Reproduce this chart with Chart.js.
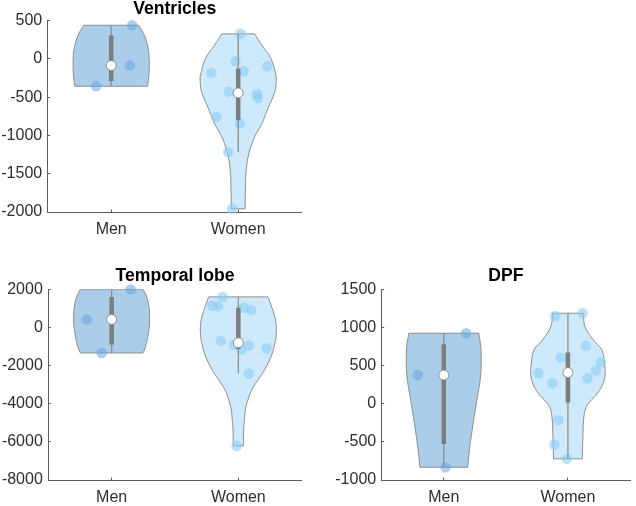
<!DOCTYPE html>
<html><head><meta charset="utf-8">
<script src="https://cdn.jsdelivr.net/npm/chart.js@4.4.0/dist/chart.umd.min.js"></script>
<style>
html,body{margin:0;padding:0;background:#fff;}
#wrap{position:relative;width:636px;height:506px;overflow:hidden;background:#fff;}
.p{position:absolute;}
canvas{display:block;}
</style></head><body>
<div id="wrap">
<div class="p" style="left:0;top:0;"><canvas id="c1" width="318" height="250"></canvas></div>
<div class="p" style="left:0;top:250px;"><canvas id="c2" width="318" height="256"></canvas></div>
<div class="p" style="left:318px;top:250px;"><canvas id="c3" width="318" height="256"></canvas></div>
</div>
<script>
// ---------- data ----------
const groups = ['Men', 'Women'];

// Ventricles
const ventTicks = [-2000, -1500, -1000, -500, 0, 500];
const ventMenPts = [440, -86, -357];
const ventMenJit = [0.165, 0.147, -0.118];
const ventWomenPts = [328, -30, -183, -161, -95, -430, -458, -510, -758, -844, -1216, -1958];
const ventWomenJit = [0.018, -0.021, -0.213, 0.044, 0.228, -0.074, 0.150, 0.154, -0.173, 0.013, -0.079, -0.047];
const ventMedian = [-86, -444];
const ventQ1 = [-289, -801];
const ventQ3 = [309, -126];
const ventWhiskLo = [-357, -1216];
const ventWhiskHi = [440, 328];
const ventMenDensY = [440, 310, 136, -39, -213, -344, -357];
const ventMenDensW = [0.72, 0.87, 0.97, 1.0, 0.99, 0.96, 0.955];
const ventWomenDensY = [328, 179, 5, -213, -278, -431, -648, -801, -867, -1020, -1237, -1455, -1673, -1958];
const ventWomenDensW = [0.43, 0.62, 0.86, 0.99, 1.0, 0.96, 0.78, 0.66, 0.60, 0.43, 0.28, 0.21, 0.19, 0.18];

// Temporal lobe
const tempTicks = [-8000, -6000, -4000, -2000, 0, 2000];
const tempMenPts = [1990, 419, -1340];
const tempMenJit = [0.150, -0.197, -0.079];
const tempWomenPts = [1602, 1131, 1115, 1026, 906, -700, -910, -1152, -963, -1099, -2430, -6215];
const tempWomenJit = [-0.126, -0.205, -0.161, 0.044, 0.102, -0.139, -0.035, 0.024, 0.083, 0.223, 0.083, -0.013];
const tempMedian = [419, -806];
const tempQ1 = [-900, -1130];
const tempQ3 = [1600, 1030];
const tempWhiskLo = [-1340, -2430];
const tempWhiskHi = [1990, 1602];
const tempMenDensY = [1990, 1430, 419, -490, -1190, -1340];
const tempMenDensW = [0.83, 0.95, 1.0, 0.95, 0.86, 0.82];
const tempWomenDensY = [1602, 1168, 471, -230, -927, -1623, -2325, -2800, -3283, -3806, -4330, -4853, -5377, -6215];
const tempWomenDensW = [0.78, 0.86, 0.97, 1.0, 0.95, 0.84, 0.66, 0.50, 0.35, 0.25, 0.185, 0.16, 0.14, 0.135];

// DPF
const dpfTicks = [-1000, -500, 0, 500, 1000, 1500];
const dpfMenPts = [924, 375, -833];
const dpfMenJit = [0.180, -0.209, 0.014];
const dpfWomenPts = [1150, 1186, 758, 605, 545, 435, 335, 401, 270, -218, -536, -723];
const dpfWomenJit = [-0.104, 0.118, 0.144, -0.056, 0.265, 0.225, 0.158, -0.237, -0.123, -0.077, -0.109, -0.008];
const dpfMedian = [375, 409];
const dpfQ1 = [-527, 17];
const dpfQ3 = [780, 671];
const dpfWhiskLo = [-833, -723];
const dpfWhiskHi = [924, 1186];
const dpfMenDensY = [924, 706, 375, 52, -252, -601, -833];
const dpfMenDensW = [0.94, 1.0, 0.99, 0.89, 0.79, 0.69, 0.64];
const dpfWomenDensY = [1186, 1010, 837, 706, 532, 401, 271, 140, 52, -35, -166, -383, -723];
const dpfWomenDensW = [0.41, 0.46, 0.68, 0.91, 0.98, 1.0, 0.95, 0.80, 0.64, 0.50, 0.43, 0.405, 0.385];

// ---------- styling ----------
const FONT = "'Liberation Sans', Arial, Helvetica, sans-serif";
Chart.defaults.font.family = FONT;
const VIOLIN_HALF = 0.3;
const violinFill = ['rgb(170,205,234)', 'rgb(206,234,250)'];
const pointFill = ['rgba(105,165,222,0.55)', 'rgba(140,205,245,0.6)'];
const edgeCol = '#8d8d8d';
const boxCol = '#7d7d7d';
const axisCol = '#5c5c5c';
const tickCol = '#2e2e2e';
const TICK_IN = -2.5;

function buildViolin(pos, ys, ws) {
  const n = ys.length, pts = [];
  const R = i => ({x: pos + ws[i] * VIOLIN_HALF, y: ys[i]});
  const L = i => ({x: pos - ws[i] * VIOLIN_HALF, y: ys[i]});
  pts.push(L(0), L(0), R(0), R(0));
  for (let i = 1; i < n - 1; i++) pts.push(R(i));
  pts.push(R(n - 1), R(n - 1), L(n - 1), L(n - 1));
  for (let i = n - 2; i >= 1; i--) pts.push(L(i));
  pts.push(L(0), L(0));
  return pts;
}

function groupDatasets(g, pts, jit, densY, densW, med, q1, q3, wlo, whi) {
  const pos = g + 1;
  return [
    { data: [{x: pos, y: med[g]}], showLine: false, pointRadius: 5, pointBorderWidth: 1,
      pointBackgroundColor: '#ffffff', pointBorderColor: edgeCol, order: 0, clip: false },
    { data: [{x: pos, y: q1[g]}, {x: pos, y: q3[g]}], borderColor: boxCol, borderWidth: 4.5,
      borderCapStyle: 'butt', pointRadius: 0, fill: false, tension: 0, order: 1 },
    { data: [{x: pos, y: wlo[g]}, {x: pos, y: whi[g]}], borderColor: edgeCol, borderWidth: 1.3,
      pointRadius: 0, fill: false, tension: 0, order: 2 },
    { data: pts.map((v, i) => ({x: pos + jit[i], y: v})), showLine: false, pointRadius: 5.3,
      pointBorderWidth: 0, pointBackgroundColor: pointFill[g], order: 3, clip: false },
    { data: buildViolin(pos, densY, densW), borderColor: edgeCol, borderWidth: 1,
      backgroundColor: violinFill[g], fill: 'shape', tension: 0.4, pointRadius: 0, order: 4 }
  ];
}

function makePanel(id, title, ticks, series, lay) {
  const datasets = [];
  series.forEach((s, g) => datasets.push(...groupDatasets(g, ...s)));
  new Chart(document.getElementById(id), {
    type: 'line',
    data: { datasets },
    options: {
      responsive: false, animation: false, events: [],
      layout: { padding: { left: 0, right: lay.w - lay.right, top: lay.titleTop, bottom: 0 } },
      plugins: {
        legend: { display: false }, tooltip: { enabled: false },
        title: { display: true, text: title, color: '#000', fullSize: false,
          font: { size: 17.6, weight: 'bold', lineHeight: 1 },
          padding: { top: 0, bottom: lay.top - lay.titleTop - 17.6 } }
      },
      scales: {
        x: {
          type: 'linear', min: 0.5, max: 2.5,
          grid: { display: true, drawOnChartArea: false, drawTicks: true, tickLength: TICK_IN, color: axisCol, lineWidth: 1 },
          border: { display: true, color: axisCol, width: 1 },
          afterBuildTicks: s => { s.ticks = groups.map((_, i) => ({ value: i + 1 })); },
          ticks: { callback: v => groups[Math.round(v) - 1] || '', color: tickCol,
            font: { size: 16 }, padding: 7.9 - TICK_IN, maxRotation: 0, autoSkip: false },
          afterFit: s => { s.height = lay.h - lay.bottom; }
        },
        y: {
          type: 'linear', min: ticks[0], max: ticks[ticks.length - 1],
          grid: { display: true, drawOnChartArea: false, drawTicks: true, tickLength: TICK_IN, color: axisCol, lineWidth: 1 },
          border: { display: true, color: axisCol, width: 1 },
          afterBuildTicks: s => { s.ticks = ticks.map(v => ({ value: v })); },
          ticks: { callback: v => String(v), color: tickCol, font: { size: 16 }, padding: 5.5 - TICK_IN, autoSkip: false },
          afterFit: s => { s.width = lay.left; }
        }
      }
    }
  });
}

makePanel('c1', 'Ventricles', ventTicks, [
  [ventMenPts, ventMenJit, ventMenDensY, ventMenDensW, ventMedian, ventQ1, ventQ3, ventWhiskLo, ventWhiskHi],
  [ventWomenPts, ventWomenJit, ventWomenDensY, ventWomenDensW, ventMedian, ventQ1, ventQ3, ventWhiskLo, ventWhiskHi]
], { w: 318, h: 250, left: 47.7, right: 301.7, top: 20.7, bottom: 212, titleTop: 0 });

makePanel('c2', 'Temporal lobe', tempTicks, [
  [tempMenPts, tempMenJit, tempMenDensY, tempMenDensW, tempMedian, tempQ1, tempQ3, tempWhiskLo, tempWhiskHi],
  [tempWomenPts, tempWomenJit, tempWomenDensY, tempWomenDensW, tempMedian, tempQ1, tempQ3, tempWhiskLo, tempWhiskHi]
], { w: 318, h: 256, left: 48.3, right: 301.7, top: 39.3, bottom: 230, titleTop: 17.4 });

makePanel('c3', 'DPF', dpfTicks, [
  [dpfMenPts, dpfMenJit, dpfMenDensY, dpfMenDensW, dpfMedian, dpfQ1, dpfQ3, dpfWhiskLo, dpfWhiskHi],
  [dpfWomenPts, dpfWomenJit, dpfWomenDensY, dpfWomenDensW, dpfMedian, dpfQ1, dpfQ3, dpfWhiskLo, dpfWhiskHi]
], { w: 318, h: 256, left: 63.7, right: 313, top: 39.3, bottom: 230, titleTop: 17.4 });
</script>
</body></html>
